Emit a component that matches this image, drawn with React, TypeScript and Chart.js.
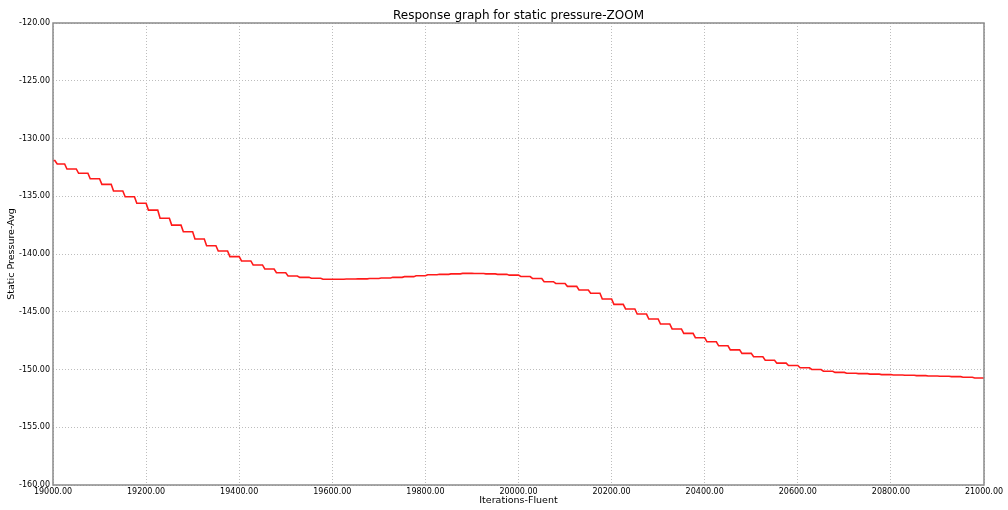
import React, { useEffect, useRef } from "react";
import { Chart, registerables } from "chart.js";

Chart.register(...registerables);

const titleText = "Response graph for static pressure-ZOOM";
const xTitle = "Iterations-Fluent";
const yTitle = "Static Pressure-Avg";

// iteration at which each recorded level starts
const iterations = [
  19000, 19004, 19025, 19050, 19075, 19100, 19125, 19150, 19175,
  19200, 19225, 19250, 19275, 19300, 19325, 19350, 19375,
  19400, 19425, 19450, 19475, 19500, 19525, 19550, 19575,
  19600, 19625, 19650, 19675, 19700, 19725, 19750, 19775,
  19800, 19825, 19850, 19875, 19900, 19925, 19950, 19975,
  20000, 20025, 20050, 20075, 20100, 20125, 20150, 20175,
  20200, 20225, 20250, 20275, 20300, 20325, 20350, 20375,
  20400, 20425, 20450, 20475, 20500, 20525, 20550, 20575,
  20600, 20625, 20650, 20675, 20700, 20725, 20750, 20775,
  20800, 20825, 20850, 20875, 20900, 20925, 20950, 20975,
  21000,
];

const staticPressure = [
  -131.9, -132.21, -132.64, -133.01, -133.49, -133.97, -134.55, -135.04, -135.61,
  -136.2, -136.9, -137.5, -138.07, -138.7, -139.28, -139.74, -140.23,
  -140.6, -140.95, -141.3, -141.62, -141.9, -142.02, -142.1, -142.19,
  -142.18, -142.17, -142.15, -142.12, -142.08, -142.02, -141.96, -141.88,
  -141.8, -141.76, -141.72, -141.68, -141.69, -141.72, -141.76, -141.83,
  -141.95, -142.12, -142.4, -142.55, -142.8, -143.12, -143.4, -143.9,
  -144.36, -144.76, -145.2, -145.63, -146.06, -146.49, -146.87, -147.25,
  -147.6, -147.95, -148.3, -148.6, -148.9, -149.2, -149.45, -149.65,
  -149.85, -150.0, -150.15, -150.25, -150.32, -150.36, -150.4, -150.44,
  -150.47, -150.5, -150.53, -150.56, -150.59, -150.62, -150.67, -150.73,
  -150.8,
];

// each level change is spread over a few iterations (sloped drop)
const DROP_ITERS = 5;

const X_MIN = 19000;
const X_MAX = 21000;
const X_STEP = 200;
const Y_MIN = -160;
const Y_MAX = -120;
const Y_STEP = 5;

const FONT = "'DejaVu Sans', sans-serif";

function buildPoints() {
  const pts: { x: number; y: number }[] = [];
  for (let i = 0; i < iterations.length; i++) {
    const start = i === 0 ? iterations[i] : Math.min(iterations[i] + DROP_ITERS, X_MAX);
    pts.push({ x: start, y: staticPressure[i] });
    if (i + 1 < iterations.length) {
      pts.push({ x: iterations[i + 1], y: staticPressure[i] });
    }
  }
  return pts;
}

const framePlugin = {
  id: "frameAndTitles",
  afterDraw(chart: any) {
    const { ctx, chartArea } = chart;
    const { left, right, top, bottom } = chartArea;
    ctx.save();
    ctx.strokeStyle = "#8a8a8a";
    ctx.lineWidth = 1.5;
    ctx.setLineDash([]);
    ctx.strokeRect(left, top, right - left, bottom - top);

    ctx.fillStyle = "#000";
    ctx.textAlign = "center";
    ctx.textBaseline = "middle";
    ctx.font = `12px ${FONT}`;
    ctx.fillText(titleText, (left + right) / 2, 16);

    ctx.font = `9.5px ${FONT}`;
    ctx.fillText(xTitle, (left + right) / 2, 501);

    ctx.translate(12, (top + bottom) / 2);
    ctx.rotate(-Math.PI / 2);
    ctx.fillText(yTitle, 0, 0);
    ctx.restore();
  },
};

export default function App() {
  const canvasRef = useRef<HTMLCanvasElement | null>(null);

  useEffect(() => {
    if (!canvasRef.current) return;
    const chart = new Chart(canvasRef.current, {
      type: "line",
      data: {
        datasets: [
          {
            label: "Static Pressure-Avg",
            data: buildPoints(),
            borderColor: "#ff1a1a",
            borderWidth: 1.6,
            pointRadius: 0,
            tension: 0,
            fill: false,
          },
        ],
      },
      options: {
        animation: false,
        responsive: false,
        maintainAspectRatio: false,
        layout: { padding: { left: 0, top: 23, right: 24, bottom: 0 } },
        plugins: {
          legend: { display: false },
          title: { display: false },
          tooltip: { enabled: false },
        },
        scales: {
          x: {
            type: "linear",
            min: X_MIN,
            max: X_MAX,
            afterFit(axis: any) {
              axis.height = 25;
            },
            ticks: {
              stepSize: X_STEP,
              padding: 2,
              maxRotation: 0,
              autoSkip: false,
              color: "#000",
              font: { family: FONT, size: 8 },
              callback: (v: any) => Number(v).toFixed(2),
            },
            grid: {
              color: "#bdbdbd",
              lineWidth: 1,
              drawTicks: false,
            },
            border: { display: false, dash: [1, 2] },
          },
          y: {
            type: "linear",
            min: Y_MIN,
            max: Y_MAX,
            afterFit(axis: any) {
              axis.width = 53;
            },
            ticks: {
              stepSize: Y_STEP,
              padding: 3,
              autoSkip: false,
              color: "#000",
              font: { family: FONT, size: 8 },
              callback: (v: any) => Number(v).toFixed(2),
            },
            grid: {
              color: "#bdbdbd",
              lineWidth: 1,
              drawTicks: false,
            },
            border: { display: false, dash: [1, 2] },
          },
        },
      },
      plugins: [framePlugin],
    });
    return () => chart.destroy();
  }, []);

  return (
    <div style={{ position: "fixed", left: 0, top: 0, width: 1008, height: 510, background: "#fff" }}>
      <canvas ref={canvasRef} width={1008} height={510} style={{ display: "block", width: 1008, height: 510 }} />
    </div>
  );
}
